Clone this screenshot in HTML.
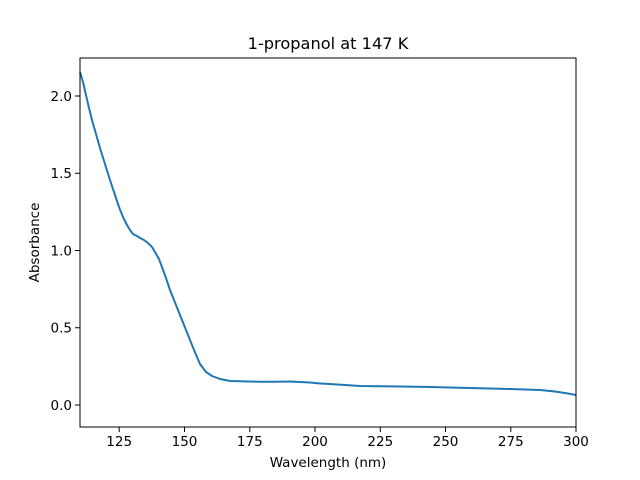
<!DOCTYPE html>
<html><head><style>body{margin:0;background:#fff}svg{display:block}text{font-family:"DejaVu Sans","Liberation Sans",sans-serif;fill:#000}</style></head>
<body>
<svg width="640" height="480" viewBox="0 0 640 480" xmlns="http://www.w3.org/2000/svg">
<rect width="640" height="480" fill="#fff"/>
<polyline fill="none" stroke="#1f77b4" stroke-width="2" stroke-linejoin="round"
points="80,72 83,82 86,95 89,108 92,120 96,134 100,148 105,164 110,180 115,195 119,207 123,217 127,225 130,230 133,234 137,236 140,238 144,240 148,243 152,247 155,252 159,259 162,267 166,278 170,290 174,300 178,310 182,320 186,330 190,340 194,350 197,357 200,364 203,368 206,372 209,374 212,376 216,377.5 220,379 225,380 230,381 240,381.3 250,381.5 260,381.8 275,381.7 290,381.5 300,382 310,382.5 320,383.5 330,384 345,385 360,386 380,386.3 400,386.5 415,386.8 430,387 450,387.5 470,388 490,388.5 510,389 525,389.5 540,390 555,391.5 565,393 576,395"/>
<rect x="80" y="58" width="496" height="369" fill="none" stroke="#000" stroke-width="1"/>
<g stroke="#000" stroke-width="1">
<line x1="119.2" y1="427" x2="119.2" y2="432"/><line x1="184.5" y1="427" x2="184.5" y2="432"/><line x1="249.8" y1="427" x2="249.8" y2="432"/><line x1="315" y1="427" x2="315" y2="432"/><line x1="380.3" y1="427" x2="380.3" y2="432"/><line x1="445.5" y1="427" x2="445.5" y2="432"/><line x1="510.8" y1="427" x2="510.8" y2="432"/><line x1="576" y1="427" x2="576" y2="432"/>
<line x1="75" y1="405" x2="80" y2="405"/><line x1="75" y1="327.75" x2="80" y2="327.75"/><line x1="75" y1="250.5" x2="80" y2="250.5"/><line x1="75" y1="173.25" x2="80" y2="173.25"/><line x1="75" y1="96" x2="80" y2="96"/>
</g>
<g font-size="13.5" text-anchor="middle">
<text x="119.2" y="446">125</text><text x="184.5" y="446">150</text><text x="249.8" y="446">175</text><text x="315" y="446">200</text><text x="380.3" y="446">225</text><text x="445.5" y="446">250</text><text x="510.8" y="446">275</text><text x="576" y="446">300</text>
</g>
<g font-size="13.5" text-anchor="end">
<text x="72" y="410">0.0</text><text x="72" y="332.5">0.5</text><text x="72" y="255.5">1.0</text><text x="72" y="178">1.5</text><text x="72" y="101">2.0</text>
</g>
<text x="328" y="467" font-size="13.5" text-anchor="middle">Wavelength (nm)</text>
<text transform="translate(39,242.5) rotate(-90)" font-size="13.5" text-anchor="middle">Absorbance</text>
<text x="328" y="49" font-size="16.2" text-anchor="middle">1-propanol at 147 K</text>
</svg>
</body></html>
